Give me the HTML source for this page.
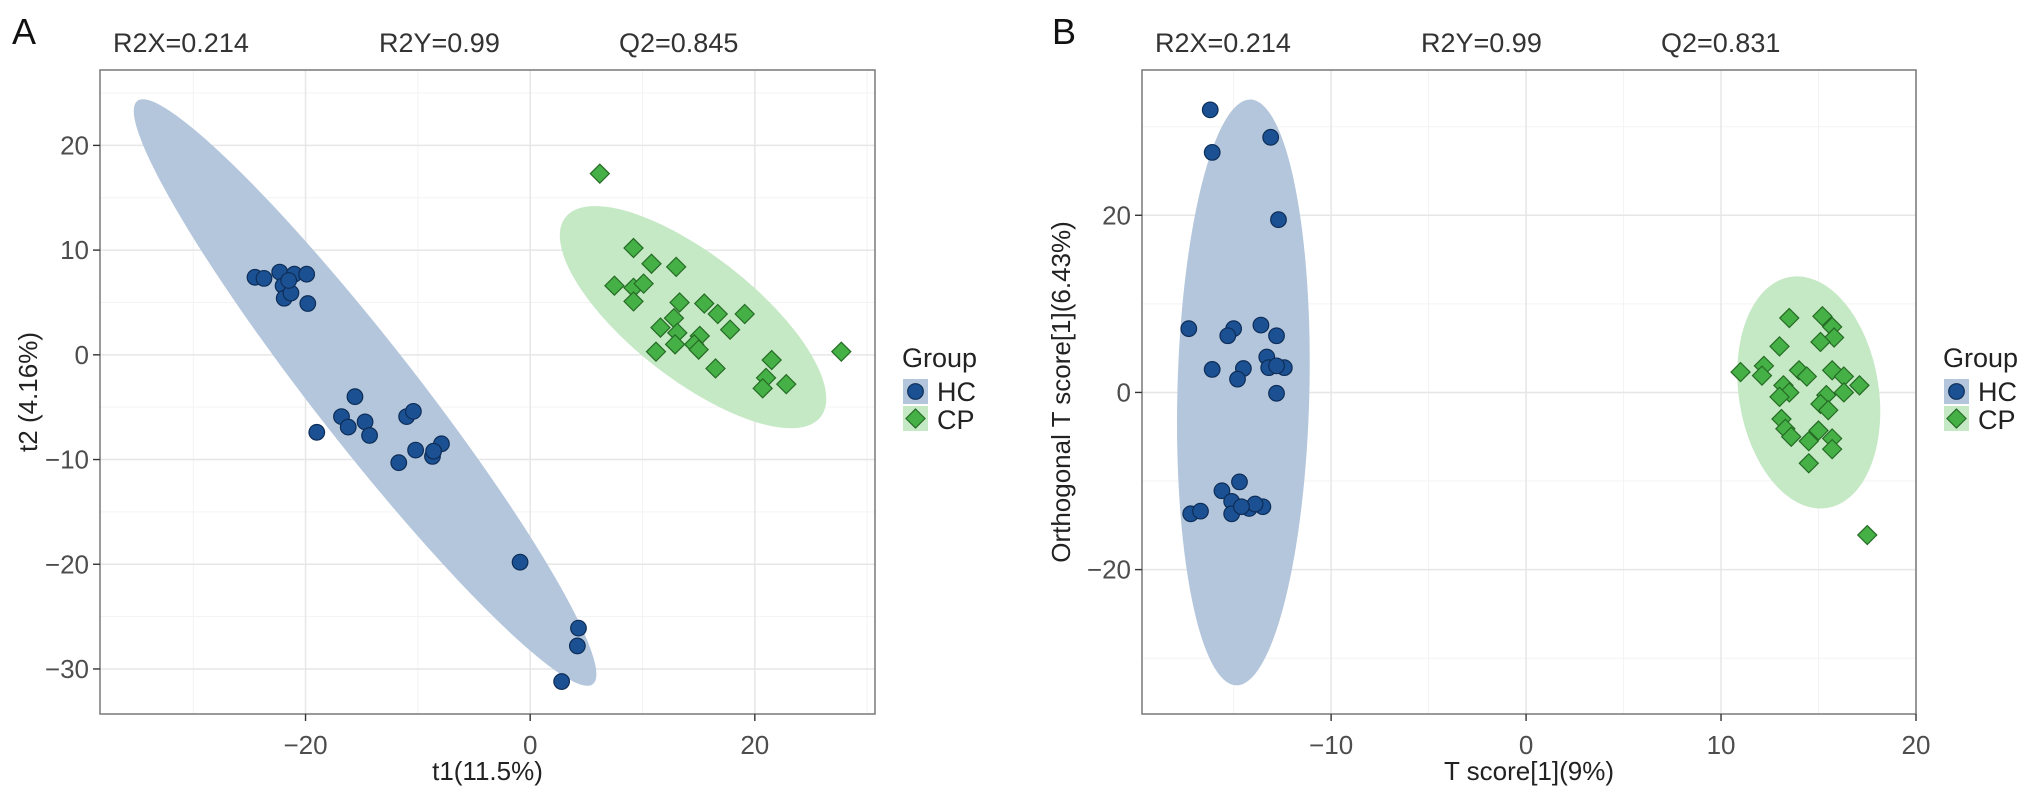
<!DOCTYPE html>
<html><head><meta charset="utf-8"><style>
html,body{margin:0;padding:0;background:#fff;}
svg{display:block;font-family:"Liberation Sans",Arial,sans-serif;}
</style></head><body>
<svg id="chart" width="2032" height="798" viewBox="0 0 2032 798" xmlns="http://www.w3.org/2000/svg"></svg>
<script>
// ---- Panel A data ----
const aHCx = [-24.5,-23.7,-22.3,-22.0,-21.0,-19.9,-21.9,-21.3,-19.8,-21.5,-15.6,-16.8,-16.2,-14.7,-14.3,-19.0,-11.0,-10.4,-10.2,-11.7,-8.7,-7.9,-8.6,-0.9,4.3,4.2,2.8];
const aHCy = [7.4,7.3,7.9,6.6,7.7,7.7,5.4,5.9,4.9,7.1,-4.0,-5.9,-6.9,-6.4,-7.7,-7.4,-5.9,-5.4,-9.1,-10.3,-9.7,-8.5,-9.2,-19.8,-26.1,-27.8,-31.2];
const aCPx = [6.2,9.2,10.8,13.0,7.5,9.2,10.1,9.2,13.3,15.5,16.7,19.1,12.8,11.6,13.1,17.8,15.1,14.6,12.9,15.0,11.2,27.7,21.5,16.5,21.0,22.8,20.7];
const aCPy = [17.3,10.2,8.7,8.4,6.6,6.4,6.8,5.1,5.0,4.9,3.9,3.9,3.5,2.6,2.1,2.4,1.8,1.0,1.0,0.5,0.3,0.3,-0.5,-1.3,-2.2,-2.8,-3.2];
const aXTicks = [-20,0,20];
const aYTicks = [20,10,0,-10,-20,-30];
const aStats = ["R2X=0.214","R2Y=0.99","Q2=0.845"];
// ---- Panel B data ----
const bHCx = [-16.2,-13.1,-16.1,-12.7,-17.3,-15.0,-15.3,-13.6,-12.8,-13.3,-13.2,-12.4,-12.8,-16.1,-14.5,-14.8,-12.8,-14.7,-15.6,-15.1,-17.2,-16.7,-15.1,-14.2,-13.5,-13.9,-14.6];
const bHCy = [31.9,28.8,27.1,19.5,7.2,7.2,6.4,7.6,6.4,4.0,2.8,2.8,3.0,2.6,2.7,1.5,-0.1,-10.1,-11.1,-12.3,-13.7,-13.4,-13.7,-13.1,-12.9,-12.6,-12.9];
const bCPx = [13.5,15.2,15.7,15.8,15.1,13.0,11.0,12.2,12.1,14.0,14.4,15.7,16.3,17.1,13.2,13.5,13.0,15.4,16.3,15.1,15.5,13.1,13.3,13.6,15.0,14.5,15.7,15.7,14.5,17.5];
const bCPy = [8.4,8.6,7.4,6.2,5.7,5.2,2.3,3.0,1.9,2.5,1.8,2.5,1.8,0.8,0.8,0.0,-0.5,-0.3,0.0,-1.3,-2.0,-3.0,-4.1,-5.0,-4.3,-5.5,-5.2,-6.4,-8.0,-16.1];
const bXTicks = [-10,0,10,20];
const bYTicks = [20,0,-20];
const bStats = ["R2X=0.214","R2Y=0.99","Q2=0.831"];

const NS="http://www.w3.org/2000/svg";
const svg=document.getElementById('chart');
function mk(tag,attrs,parent,text){const e=document.createElementNS(NS,tag);for(const k in attrs)e.setAttribute(k,attrs[k]);if(text!==undefined)e.textContent=text;(parent||svg).appendChild(e);return e;}

function panel(cfg){
  const g=mk('g',{});
  
  
  const L=cfg.left,R=cfg.right,T=70,B=714;
  const sx=v=>L+(v-cfg.xmin)/(cfg.xmax-cfg.xmin)*(R-L);
  const sy=v=>T+(cfg.ymax-v)/(cfg.ymax-cfg.ymin)*(B-T);
  mk('rect',{x:L,y:T,width:R-L,height:B-T,fill:'#fff'},g);
  for(const v of cfg.xMinor){mk('line',{x1:sx(v),x2:sx(v),y1:T,y2:B,stroke:'#f3f3f3','stroke-width':1},g);}
  for(const v of cfg.yMinor){mk('line',{x1:L,x2:R,y1:sy(v),y2:sy(v),stroke:'#f3f3f3','stroke-width':1},g);}
  for(const v of cfg.xTicks){mk('line',{x1:sx(v),x2:sx(v),y1:T,y2:B,stroke:'#e6e6e6','stroke-width':1.5},g);}
  for(const v of cfg.yTicks){mk('line',{x1:L,x2:R,y1:sy(v),y2:sy(v),stroke:'#e6e6e6','stroke-width':1.5},g);}
  for(const el of cfg.ellipses){
    const cx=sx(el.cx),cy=sy(el.cy);
    const e=mk('ellipse',{cx:cx,cy:cy,rx:el.rx,ry:el.ry,transform:`rotate(${el.rot} ${cx} ${cy})`,fill:el.fill},g);
    
    
  }
  for(let i=0;i<cfg.hcx.length;i++){
    const c=mk('circle',{cx:sx(cfg.hcx[i]),cy:sy(cfg.hcy[i]),r:7.8,fill:'#1b5192',stroke:'#0e2d57','stroke-width':1.2},g);
    
    
  }
  for(let i=0;i<cfg.cpx.length;i++){
    const x=sx(cfg.cpx[i]),y=sy(cfg.cpy[i]),d=9.5;
    const p=mk('polygon',{points:`${x},${y-d} ${x+d},${y} ${x},${y+d} ${x-d},${y}`,fill:'#45b045',stroke:'#256b25','stroke-width':1.2},g);
    
    
  }
  mk('rect',{x:L,y:T,width:R-L,height:B-T,fill:'none',stroke:'#808080','stroke-width':1.6},g);
  for(const v of cfg.xTicks){
    mk('line',{x1:sx(v),x2:sx(v),y1:B,y2:B+7,stroke:'#333','stroke-width':1.4},g);
    const t=mk('text',{x:sx(v),y:754,'text-anchor':'middle','font-size':26,fill:'#4d4d4d'},g,v<0?'\u2212'+Math.abs(v):String(v));
    
    
  }
  for(const v of cfg.yTicks){
    mk('line',{x1:L-7,x2:L,y1:sy(v),y2:sy(v),stroke:'#333','stroke-width':1.4},g);
    const t=mk('text',{x:L-11,y:sy(v)+9,'text-anchor':'end','font-size':26,fill:'#4d4d4d'},g,v<0?'\u2212'+Math.abs(v):String(v));
    
    
  }
  const xt=mk('text',{x:(L+R)/2,y:780,'text-anchor':'middle','font-size':26,fill:'#222'},g,cfg.xlabel);
  
  
  const yx=cfg.ylabelX,ym=(T+B)/2;
  const yt=mk('text',{x:yx,y:ym,'text-anchor':'middle','font-size':26,fill:'#222',transform:`rotate(-90 ${yx} ${ym})`,dy:9},g,cfg.ylabel);
  
  
  const offs=[13,279,519];
  cfg.stats.forEach((s,i)=>{
    const t=mk('text',{x:L+offs[i],y:52,'font-size':27,fill:'#333'},g,s);
    
    
  });
  const pl=mk('text',{x:cfg.letterX,y:44,'font-size':36,fill:'#111'},g,cfg.letter);
  
  
  const lg=mk('g',{},g);
  
  
  const lx=R+28;
  mk('text',{x:lx-1,y:367,'font-size':27,fill:'#222'},lg,'Group');
  mk('rect',{x:lx,y:379,width:25,height:25,fill:'#b3c6dc'},lg);
  mk('circle',{cx:lx+12.5,cy:391.5,r:7.8,fill:'#1b5192',stroke:'#0e2d57','stroke-width':1.2},lg);
  const e1=mk('text',{x:lx+34,y:401,'font-size':27,fill:'#222'},lg,'HC');
  
  
  mk('rect',{x:lx,y:406,width:25,height:25,fill:'#c5e8c5'},lg);
  const cx=lx+12.5,cy=418.5,d=9.5;
  mk('polygon',{points:`${cx},${cy-d} ${cx+d},${cy} ${cx},${cy+d} ${cx-d},${cy}`,fill:'#45b045',stroke:'#256b25','stroke-width':1.2},lg);
  const e2=mk('text',{x:lx+34,y:429,'font-size':27,fill:'#222'},lg,'CP');
  
  
}

panel({id:'a',letter:'A',letterX:12,left:100,right:875,xmin:-38.3,xmax:30.7,ymin:-34.3,ymax:27.2,
  xTicks:aXTicks,yTicks:aYTicks,xMinor:[-30,-10,10,30],yMinor:[25,15,5,-5,-15,-25],
  hcx:aHCx,hcy:aHCy,cpx:aCPx,cpy:aCPy,stats:aStats,
  xlabel:'t1(11.5%)',ylabel:'t2 (4.16%)',ylabelX:28,
  ellipses:[{name:'hc-ellipse',cx:-14.7,cy:-3.6,rx:370,ry:51,rot:52,fill:'#b3c6dc'},
            {name:'cp-ellipse',cx:14.5,cy:3.6,rx:162,ry:62,rot:38,fill:'#c5e8c5'}]});
panel({id:'b',letter:'B',letterX:1052,left:1142,right:1916,xmin:-19.7,xmax:20,ymin:-36.3,ymax:36.4,
  xTicks:bXTicks,yTicks:bYTicks,xMinor:[-15,-5,5,15],yMinor:[30,10,-10,-30],
  hcx:bHCx,hcy:bHCy,cpx:bCPx,cpy:bCPy,stats:bStats,
  xlabel:'T score[1](9%)',ylabel:'Orthogonal T score[1](6.43%)',ylabelX:1061,
  ellipses:[{name:'hc-ellipse',cx:-14.5,cy:0,rx:66,ry:293,rot:1.4,fill:'#b3c6dc'},
            {name:'cp-ellipse',cx:14.5,cy:0,rx:70,ry:117,rot:-9,fill:'#c5e8c5'}]});
</script>
</body></html>
